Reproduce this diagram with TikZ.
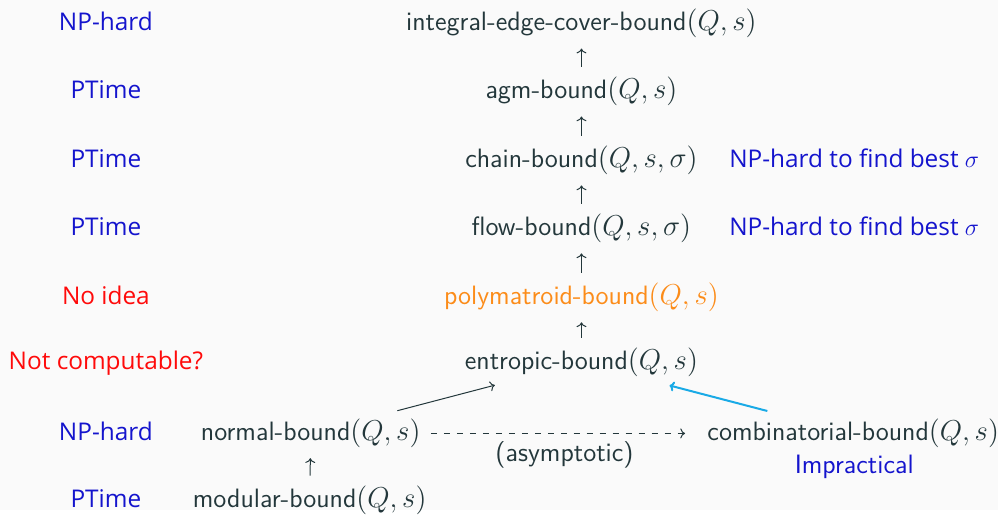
\documentclass[tikz,border=0pt]{standalone}
\usepackage{fontspec}
\newfontfamily\labelfont{Open Sans}
\usetikzlibrary{arrows.meta,calc}
\definecolor{ink}{HTML}{23373B}
\definecolor{paper}{HTML}{FAFAFA}
\definecolor{hardblue}{RGB}{20,20,205}
\definecolor{unkred}{RGB}{255,10,10}
\definecolor{polyorange}{RGB}{252,140,25}
\definecolor{skyarrow}{RGB}{25,170,230}
\begin{document}
\begin{tikzpicture}[x=0.5pt,y=-0.5pt,
  bound/.style={text=ink,font=\sffamily\fontsize{13.3}{15}\selectfont,inner sep=0pt,anchor=base},
  verdict/.style={text=hardblue,font=\labelfont\fontsize{12.2}{14}\selectfont,inner sep=0pt,anchor=base},
  hopeless/.style={verdict,text=unkred},
  implies/.style={draw=ink,line width=0.5pt,-{To[length=2.4pt,width=5pt]}},
  upward/.style={implies,shorten >=5pt,shorten <=5pt},
]
\fill[paper] (0,0) rectangle (999,510);

% chain of bounds
\node[bound] (iec)  at (582,31)  {integral-edge-cover-bound$(Q,s)$};
\node[bound] (agm)  at (582,99)  {agm-bound$(Q,s)$};
\node[bound] (chain) at (582,168) {chain-bound$(Q,s,\sigma)$};
\node[bound] (flow) at (582,236) {flow-bound$(Q,s,\sigma)$};
\node[bound,text=polyorange] (poly) at (582,305) {polymatroid-bound$(Q,s)$};
\node[bound] (ent)  at (582,370) {entropic-bound$(Q,s)$};
\node[bound] (norm) at (311,441) {normal-bound$(Q,s)$};
\node[bound] (comb) at (854,441) {combinatorial-bound$(Q,s)$};
\node[bound] (mod)  at (310,508) {modular-bound$(Q,s)$};
\node[bound] (asym) at (565,462) {(asymptotic)};
\node[bound,text=hardblue] (impr) at (855,474) {Impractical};

% complexity of each bound
\node[verdict]  (c1) at (106,31)  {NP-hard};
\node[verdict]  (c2) at (106,99)  {PTime};
\node[verdict]  (c3) at (106,168) {PTime};
\node[verdict]  (c4) at (106,236) {PTime};
\node[hopeless] (c5) at (106,305) {No idea};
\node[hopeless] (c6) at (106,370) {Not computable?};
\node[verdict]  (c7) at (106,441) {NP-hard};
\node[verdict]  (c8) at (106,508) {PTime};
\node[verdict]  (r3) at (855,168) {NP-hard to find best $\sigma$};
\node[verdict]  (r4) at (855,236) {NP-hard to find best $\sigma$};

% implications
\draw[upward] (agm) -- (iec);
\draw[upward] (chain) -- (agm);
\draw[upward] (flow) -- (chain);
\draw[upward] (poly) -- (flow);
\draw[upward] (ent) -- (poly);
\draw[upward] (mod) -- (norm);
\draw[implies] ($(norm)!0.32!(ent)$) -- ($(norm)!0.68!(ent)$);
\draw[implies,draw=skyarrow,line width=1pt] ($(comb)!0.316!(ent)$) -- ($(comb)!0.676!(ent)$);
\draw[implies,dash pattern=on 3pt off 3.5pt,shorten <=5pt,shorten >=11pt] (norm.east) -- (comb.west);
\end{tikzpicture}
\end{document}
